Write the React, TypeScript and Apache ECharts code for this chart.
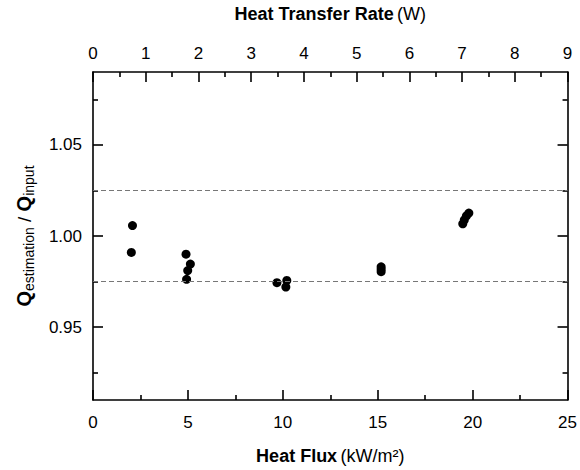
import React, { useEffect, useRef } from "react";
import * as echarts from "echarts";

const heatFlux = [2.08, 2.02, 4.9, 5.13, 4.99, 4.93, 9.69, 10.21, 10.16, 15.18, 15.18, 15.18, 19.8, 19.67, 19.56, 19.48];
const ratio = [1.0057, 0.991, 0.99, 0.9846, 0.981, 0.9762, 0.9744, 0.9756, 0.972, 0.9831, 0.9817, 0.9804, 1.0126, 1.011, 1.0088, 1.0067];
const limitLines = [1.025, 0.975];
const yMajorTicks = [0.95, 1.0, 1.05];
const yMinorTicks = [0.925, 0.975, 1.025, 1.075];
const bottomRange = [0, 25];
const topRange = [0, 9];
const yRange = [0.91, 1.09];

const FONT = "'Liberation Sans', Arial, Helvetica, sans-serif";
const AX = { color: "#000", width: 1.6 };

export default function App() {
  const ref = useRef<HTMLDivElement>(null);
  useEffect(() => {
    if (!ref.current) return;
    const chart = echarts.init(ref.current, undefined, { renderer: "svg" });
    const points = heatFlux.map((x, i) => [x, ratio[i]]);
    const yBase = {
      type: "value",
      min: yRange[0],
      max: yRange[1],
      splitLine: { show: false },
    };
    chart.setOption({
      animation: false,
      backgroundColor: "#fff",
      textStyle: { fontFamily: FONT },
      grid: { left: 93, right: 9, top: 71, bottom: 65, containLabel: false },
      xAxis: [
        {
          type: "value",
          position: "bottom",
          min: bottomRange[0],
          max: bottomRange[1],
          interval: 5,
          axisLine: { show: true, lineStyle: AX },
          axisTick: { show: true, inside: true, length: 10, lineStyle: AX },
          minorTick: { show: true, splitNumber: 2, length: 5, lineStyle: AX },
          splitLine: { show: false },
          axisLabel: { color: "#000", fontSize: 17, margin: 14, fontFamily: FONT },
          name: "{b|Heat Flux} {n|(kW/m²)}",
          nameLocation: "middle",
          nameGap: 47,
          nameTextStyle: {
            rich: {
              b: { fontSize: 18, fontWeight: "bold", color: "#000", fontFamily: FONT },
              n: { fontSize: 18, color: "#000", fontFamily: FONT },
            },
          },
        },
        {
          type: "value",
          position: "top",
          min: topRange[0],
          max: topRange[1],
          interval: 1,
          axisLine: { show: true, lineStyle: AX },
          axisTick: { show: true, inside: true, length: 10, lineStyle: AX },
          minorTick: { show: true, splitNumber: 2, length: 5, lineStyle: AX },
          splitLine: { show: false },
          axisLabel: { color: "#000", fontSize: 17, margin: 10, fontFamily: FONT },
          name: "{b|Heat Transfer Rate} {n|(W)}",
          nameLocation: "middle",
          nameGap: 49,
          nameTextStyle: {
            rich: {
              b: { fontSize: 18, fontWeight: "bold", color: "#000", fontFamily: FONT },
              n: { fontSize: 18, color: "#000", fontFamily: FONT },
            },
          },
        },
      ],
      yAxis: [
        {
          ...yBase,
          position: "left",
          axisLine: { show: true, lineStyle: AX },
          axisTick: { show: true, inside: true, length: 10, lineStyle: AX, customValues: yMajorTicks },
          axisLabel: {
            color: "#000",
            fontSize: 17,
            margin: 11,
            fontFamily: FONT,
            customValues: yMajorTicks,
            formatter: (v: number) => v.toFixed(2),
          },
          name: "{q|Q}{s|estimation}{n| / }{q|Q}{s|input}",
          nameLocation: "middle",
          nameGap: 57,
          nameTextStyle: {
            rich: {
              q: { fontSize: 20, fontWeight: "bold", color: "#000", lineHeight: 24, fontFamily: FONT },
              n: { fontSize: 19, color: "#000", lineHeight: 24, fontFamily: FONT },
              s: { fontSize: 14, color: "#000", lineHeight: 13, verticalAlign: "bottom", fontFamily: FONT },
            },
          },
        },
        {
          ...yBase,
          position: "left",
          axisLine: { show: false },
          axisTick: { show: true, inside: true, length: 5, lineStyle: AX, customValues: yMinorTicks },
          axisLabel: { show: false },
        },
        {
          ...yBase,
          position: "right",
          axisLine: { show: true, lineStyle: AX },
          axisTick: { show: true, inside: true, length: 10, lineStyle: AX, customValues: yMajorTicks },
          axisLabel: { show: false },
        },
        {
          ...yBase,
          position: "right",
          axisLine: { show: false },
          axisTick: { show: true, inside: true, length: 5, lineStyle: AX, customValues: yMinorTicks },
          axisLabel: { show: false },
        },
      ],
      series: [
        {
          type: "scatter",
          xAxisIndex: 0,
          yAxisIndex: 0,
          data: points,
          symbol: "circle",
          symbolSize: 9,
          itemStyle: { color: "#000", opacity: 1 },
          markLine: {
            silent: true,
            symbol: "none",
            precision: 4,
            label: { show: false },
            lineStyle: { color: "#777", width: 1.2, type: [5, 3] },
            data: limitLines.map((v) => ({ yAxis: v })),
          },
        },
      ],
    });
    return () => chart.dispose();
  }, []);
  return (
    <div
      ref={ref}
      style={{ position: "absolute", left: 0, top: 0, width: 580, height: 470 }}
    />
  );
}
